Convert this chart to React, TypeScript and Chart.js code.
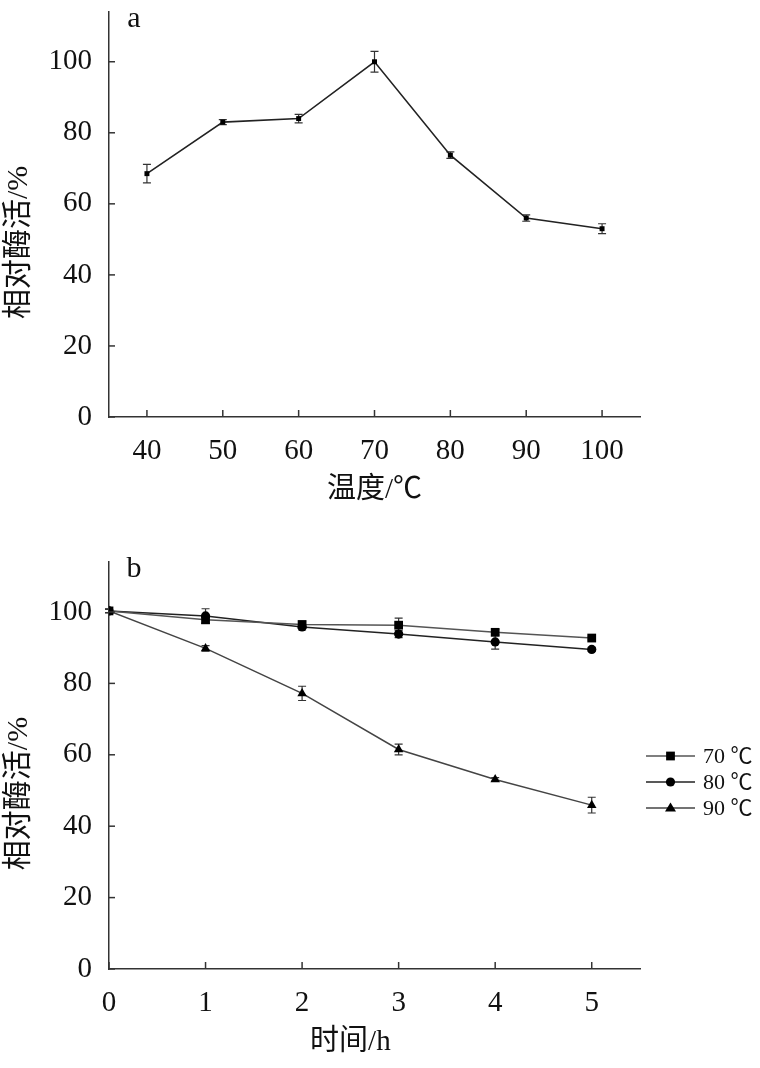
import React, { useEffect, useRef } from "react";
import { Chart, registerables } from "chart.js";

Chart.register(...registerables);

// ---------- Data: panel a (temperature optimum) ----------
const temperatures = [40, 50, 60, 70, 80, 90, 100];
const tempActivity = [68.5, 83.0, 84.0, 100.0, 73.7, 56.0, 53.0];
const tempError = [2.6, 0.7, 1.2, 2.9, 0.9, 0.9, 1.4];
const tempTicks = [40, 50, 60, 70, 80, 90, 100];
const activityTicks = [0, 20, 40, 60, 80, 100];

// ---------- Data: panel b (thermal stability) ----------
const hours = [0, 1, 2, 3, 4, 5];
const hourTicks = [0, 1, 2, 3, 4, 5];
const seriesLabels = ["70 ℃", "80 ℃", "90 ℃"];
const stability70 = [100.3, 97.8, 96.5, 96.3, 94.3, 92.7];
const stability80 = [100.3, 98.9, 95.8, 93.8, 91.6, 89.5];
const stability90 = [100.3, 89.8, 77.2, 61.5, 53.1, 45.9];
const error70 = [0.5, 1.0, 0.8, 2.0, 0.8, 0.5];
const error80 = [0.5, 2.0, 0.8, 1.0, 2.0, 0.5];
const error90 = [0.5, 0.8, 2.0, 1.5, 0.5, 2.2];

const yTitle = "相对酶活/%";
const xTitleA = "温度/℃";
const xTitleB = "时间/h";

const FONT = "'Liberation Serif', 'Noto Sans CJK SC', serif";
const W = 760;
const H = 534;

const decorPlugin = {
  id: "decor",
  beforeDatasetsDraw(chart: any, _args: any, opts: any) {
    const { ctx, scales } = chart;
    const xs = scales.x;
    const ys = scales.y;
    ctx.save();
    ctx.strokeStyle = "#333";
    ctx.lineWidth = 1.2;
    chart.data.datasets.forEach((ds: any, di: number) => {
      const errs = opts.errors?.[di];
      if (!errs) return;
      ds.data.forEach((p: any, i: number) => {
        const e = errs[i];
        if (!e) return;
        const px = xs.getPixelForValue(p.x);
        const y1 = ys.getPixelForValue(p.y + e);
        const y2 = ys.getPixelForValue(p.y - e);
        ctx.beginPath();
        ctx.moveTo(px, y1);
        ctx.lineTo(px, y2);
        ctx.moveTo(px - 4, y1);
        ctx.lineTo(px + 4, y1);
        ctx.moveTo(px - 4, y2);
        ctx.lineTo(px + 4, y2);
        ctx.stroke();
      });
    });
    ctx.restore();
  },
  afterDraw(chart: any, _args: any, opts: any) {
    const { ctx, scales, chartArea } = chart;
    const xs = scales.x;
    const ys = scales.y;
    ctx.save();
    // inward tick marks
    ctx.strokeStyle = "#333";
    ctx.lineWidth = 1.5;
    ys.ticks.forEach((t: any) => {
      const py = ys.getPixelForValue(t.value);
      ctx.beginPath();
      ctx.moveTo(chartArea.left, py);
      ctx.lineTo(chartArea.left + 6, py);
      ctx.stroke();
    });
    xs.ticks.forEach((t: any) => {
      const px = xs.getPixelForValue(t.value);
      ctx.beginPath();
      ctx.moveTo(px, chartArea.bottom);
      ctx.lineTo(px, chartArea.bottom - 7);
      ctx.stroke();
    });

    ctx.fillStyle = "#111";
    // panel letter
    ctx.font = `30px ${FONT}`;
    ctx.textAlign = "center";
    ctx.textBaseline = "middle";
    ctx.fillText(opts.panel, chartArea.left + 25, chartArea.top + 7);

    // x title centred on tick range
    const xt = xs.ticks;
    const xc =
      (xs.getPixelForValue(xt[0].value) + xs.getPixelForValue(xt[xt.length - 1].value)) / 2;
    ctx.font = `29px ${FONT}`;
    ctx.fillText(opts.xTitle, xc, chartArea.bottom + 73);

    // y title (rotated) centred on tick range
    const yt = ys.ticks;
    const yc =
      (ys.getPixelForValue(yt[0].value) + ys.getPixelForValue(yt[yt.length - 1].value)) / 2 + 3;
    ctx.save();
    ctx.translate(19, yc);
    ctx.rotate(-Math.PI / 2);
    ctx.font = `30px ${FONT}`;
    ctx.fillText(opts.yTitle, 0, 0);
    ctx.restore();

    // legend
    if (opts.legend) {
      const startY = opts.legendTop;
      chart.data.datasets.forEach((ds: any, i: number) => {
        const y = startY + i * 26;
        ctx.strokeStyle = ds.borderColor;
        ctx.lineWidth = 1.5;
        ctx.beginPath();
        ctx.moveTo(646, y);
        ctx.lineTo(695, y);
        ctx.stroke();
        ctx.fillStyle = "#000";
        const cx = 670.5;
        const r = ds.pointRadius;
        ctx.beginPath();
        if (ds.pointStyle === "rect") {
          const h = r * Math.SQRT1_2;
          ctx.fillRect(cx - h, y - h, h * 2, h * 2);
        } else if (ds.pointStyle === "circle") {
          ctx.arc(cx, y, r, 0, Math.PI * 2);
          ctx.fill();
        } else {
          ctx.moveTo(cx, y - r);
          ctx.lineTo(cx + r, y + r * 0.65);
          ctx.lineTo(cx - r, y + r * 0.65);
          ctx.closePath();
          ctx.fill();
        }
        ctx.fillStyle = "#111";
        ctx.font = `22px ${FONT}`;
        ctx.textAlign = "left";
        ctx.textBaseline = "middle";
        ctx.fillText(ds.label, 703, y + 1);
      });
    }
    ctx.restore();
  },
};

function makeOptions(cfg: {
  xMin: number;
  xMax: number;
  xTicks: number[];
  top: number;
  bottom: number;
  plugin: any;
}) {
  return {
    animation: false as const,
    responsive: false,
    layout: { padding: { left: 0, right: W - 640, top: cfg.top, bottom: 0 } },
    plugins: {
      legend: { display: false },
      tooltip: { enabled: false },
      decor: cfg.plugin,
    },
    scales: {
      x: {
        type: "linear" as const,
        min: cfg.xMin,
        max: cfg.xMax,
        afterBuildTicks: (s: any) => {
          s.ticks = cfg.xTicks.map((v) => ({ value: v }));
        },
        afterFit: (s: any) => {
          s.height = H - cfg.bottom;
          s.paddingLeft = 0;
          s.paddingRight = 0;
        },
        grid: { display: false, drawTicks: false },
        border: { display: true, color: "#333", width: 1.5 },
        ticks: {
          color: "#111",
          padding: 17,
          maxRotation: 0,
          autoSkip: false,
          font: { family: FONT, size: 29 },
          callback: (v: any) => String(v),
        },
      },
      y: {
        type: "linear" as const,
        min: 0,
        max: 114,
        afterBuildTicks: (s: any) => {
          s.ticks = activityTicks.map((v) => ({ value: v }));
        },
        afterFit: (s: any) => {
          s.width = 109;
          s.paddingTop = 0;
          s.paddingBottom = 0;
        },
        grid: { display: false, drawTicks: false },
        border: { display: true, color: "#333", width: 1.5 },
        ticks: {
          color: "#111",
          padding: 17,
          autoSkip: false,
          font: { family: FONT, size: 29 },
          callback: (v: any) => String(v),
        },
      },
    },
  };
}

function ChartA() {
  const ref = useRef<HTMLCanvasElement>(null);
  useEffect(() => {
    if (!ref.current) return;
    const chart = new Chart(ref.current, {
      type: "line",
      data: {
        datasets: [
          {
            label: "相对酶活",
            data: temperatures.map((t, i) => ({ x: t, y: tempActivity[i] })),
            borderColor: "#222",
            borderWidth: 1.6,
            pointStyle: "rect",
            pointRadius: 3.5,
            pointBackgroundColor: "#000",
            pointBorderColor: "#000",
            pointBorderWidth: 0,
            tension: 0,
          },
        ],
      },
      options: makeOptions({
        xMin: 35,
        xMax: 105,
        xTicks: tempTicks,
        top: 12,
        bottom: 417,
        plugin: { panel: "a", xTitle: xTitleA, yTitle, errors: [tempError], legend: false },
      }) as any,
      plugins: [decorPlugin],
    });
    return () => chart.destroy();
  }, []);
  return <canvas ref={ref} width={W} height={H} style={{ display: "block", width: W, height: H }} />;
}

function ChartB() {
  const ref = useRef<HTMLCanvasElement>(null);
  useEffect(() => {
    if (!ref.current) return;
    const series = [stability70, stability80, stability90];
    const styles = ["rect", "circle", "triangle"];
    const colors = ["#555", "#222", "#444"];
    const radii = [6.2, 4.6, 5.5];
    const chart = new Chart(ref.current, {
      type: "line",
      data: {
        datasets: series.map((s, k) => ({
          label: seriesLabels[k],
          data: hours.map((h, i) => ({ x: h, y: s[i] })),
          borderColor: colors[k],
          borderWidth: 1.5,
          pointStyle: styles[k],
          pointRadius: radii[k],
          pointBackgroundColor: "#000",
          pointBorderColor: "#000",
          pointBorderWidth: 0,
          tension: 0,
        })),
      },
      options: makeOptions({
        xMin: 0,
        xMax: 5.5,
        xTicks: hourTicks,
        top: 28,
        bottom: 969 - H,
        plugin: {
          panel: "b",
          xTitle: xTitleB,
          yTitle,
          errors: [error70, error80, error90],
          legend: true,
          legendTop: 756 - H,
        },
      }) as any,
      plugins: [decorPlugin],
    });
    return () => chart.destroy();
  }, []);
  return <canvas ref={ref} width={W} height={H} style={{ display: "block", width: W, height: H }} />;
}

export default function App() {
  return (
    <div style={{ position: "absolute", left: 0, top: 0, width: W, height: 2 * H, background: "#fff" }}>
      <ChartA />
      <ChartB />
    </div>
  );
}
